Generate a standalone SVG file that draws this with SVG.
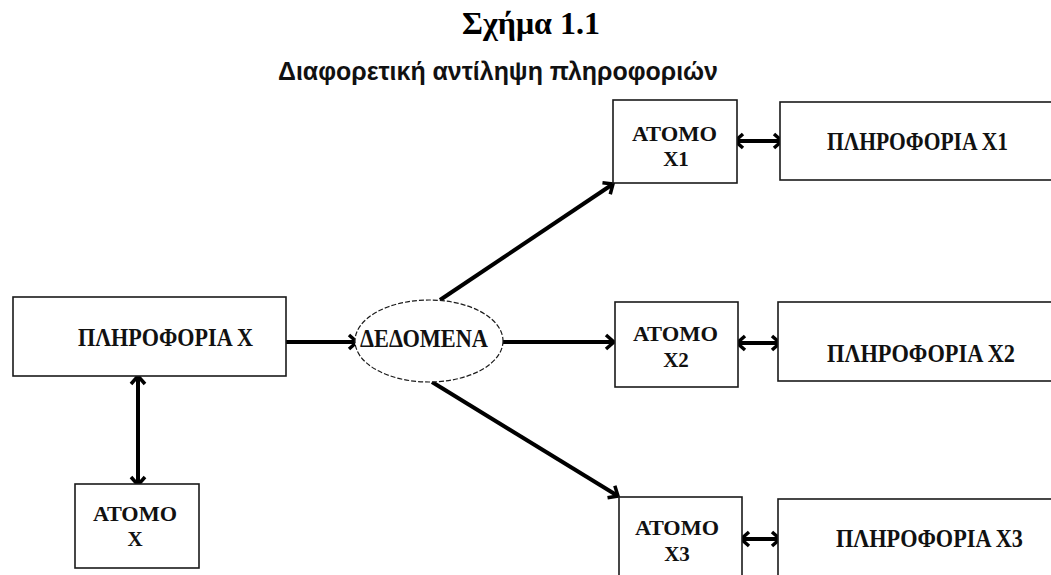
<svg xmlns="http://www.w3.org/2000/svg" width="1051" height="575" viewBox="0 0 1051 575">
  <style>
    .box { fill: #ffffff; stroke: #1a1a1a; stroke-width: 1.6; }
    .oval { fill: #ffffff; stroke: #1a1a1a; stroke-width: 1.2; stroke-dasharray: 5 2; }
    .lbl { font-family: "Liberation Serif", "Times New Roman", serif; font-weight: bold; font-size: 25px; fill: #111111; }
    .two { font-size: 21px; }
    .mid { text-anchor: middle; }
    .title { font-family: "Liberation Serif", "Times New Roman", serif; font-weight: bold; font-size: 32px; fill: #000000; text-anchor: middle; }
    .sub { font-family: "Liberation Sans", Arial, sans-serif; font-weight: bold; font-size: 25px; fill: #111111; text-anchor: middle; }
    .link { fill: none; stroke: #000000; stroke-width: 4; }
  </style>
  <defs>
    <!-- barbed arrowhead shared by all connectors -->
    <marker id="head" viewBox="0 0 12 18" refX="10" refY="9" markerWidth="12" markerHeight="18" markerUnits="userSpaceOnUse" orient="auto-start-reverse">
      <path d="M2,2 L10,9 L2,16" fill="none" stroke="#000000" stroke-width="3.5" stroke-linejoin="miter"/>
    </marker>
  </defs>

  <rect width="1051" height="575" fill="#ffffff"/>

  <text class="title" x="531" y="34">Σχήμα 1.1</text>
  <text class="sub" x="498" y="80" textLength="440" lengthAdjust="spacingAndGlyphs">Διαφορετική αντίληψη πληροφοριών</text>

  <!-- connectors -->
  <g id="connectors">
    <line class="link" x1="286" y1="342" x2="357" y2="342" marker-end="url(#head)"/>
    <line class="link" x1="440" y1="300" x2="613" y2="184" marker-end="url(#head)"/>
    <line class="link" x1="503" y1="342" x2="614" y2="342" marker-end="url(#head)"/>
    <line class="link" x1="432" y1="382" x2="618" y2="496" marker-end="url(#head)"/>
    <line class="link" x1="735" y1="141" x2="782" y2="141" marker-start="url(#head)" marker-end="url(#head)"/>
    <line class="link" x1="737" y1="343" x2="780" y2="343" marker-start="url(#head)" marker-end="url(#head)"/>
    <line class="link" x1="741" y1="539" x2="780" y2="539" marker-start="url(#head)" marker-end="url(#head)"/>
    <line class="link" x1="138" y1="376" x2="138" y2="485" marker-start="url(#head)" marker-end="url(#head)"/>
  </g>

  <g id="info-x">
    <rect class="box" x="13" y="297" width="273" height="79"/>
    <text class="lbl" x="78" y="346" textLength="175" lengthAdjust="spacingAndGlyphs">ΠΛΗΡΟΦΟΡΙΑ X</text>
  </g>

  <g id="atomo-x">
    <rect class="box" x="75" y="484" width="124" height="84"/>
    <text class="lbl two" x="93" y="521" textLength="84" lengthAdjust="spacingAndGlyphs">ΑΤΟΜΟ</text>
    <text class="lbl two mid" x="135" y="546">X</text>
  </g>

  <g id="dedomena">
    <ellipse class="oval" cx="429" cy="341" rx="74" ry="41"/>
    <text class="lbl" x="360" y="347" textLength="128" lengthAdjust="spacingAndGlyphs">ΔΕΔΟΜΕΝΑ</text>
  </g>

  <g id="atomo-x1">
    <rect class="box" x="613" y="100" width="124" height="83"/>
    <text class="lbl two" x="632" y="141" textLength="85" lengthAdjust="spacingAndGlyphs">ΑΤΟΜΟ</text>
    <text class="lbl two mid" x="676" y="166">X1</text>
  </g>

  <g id="info-x1">
    <rect class="box" x="780" y="102" width="290" height="78"/>
    <text class="lbl" x="827" y="150" textLength="181" lengthAdjust="spacingAndGlyphs">ΠΛΗΡΟΦΟΡΙΑ X1</text>
  </g>

  <g id="atomo-x2">
    <rect class="box" x="615" y="302" width="123" height="85"/>
    <text class="lbl two" x="633" y="341" textLength="85" lengthAdjust="spacingAndGlyphs">ΑΤΟΜΟ</text>
    <text class="lbl two mid" x="676" y="367">X2</text>
  </g>

  <g id="info-x2">
    <rect class="box" x="778" y="302" width="290" height="79"/>
    <text class="lbl" x="827" y="362" textLength="188" lengthAdjust="spacingAndGlyphs">ΠΛΗΡΟΦΟΡΙΑ X2</text>
  </g>

  <g id="atomo-x3">
    <rect class="box" x="619" y="497" width="123" height="100"/>
    <text class="lbl two" x="635" y="535" textLength="84" lengthAdjust="spacingAndGlyphs">ΑΤΟΜΟ</text>
    <text class="lbl two mid" x="677" y="561">X3</text>
  </g>

  <g id="info-x3">
    <rect class="box" x="778" y="499" width="290" height="100"/>
    <text class="lbl" x="836" y="547" textLength="187" lengthAdjust="spacingAndGlyphs">ΠΛΗΡΟΦΟΡΙΑ X3</text>
  </g>
</svg>
